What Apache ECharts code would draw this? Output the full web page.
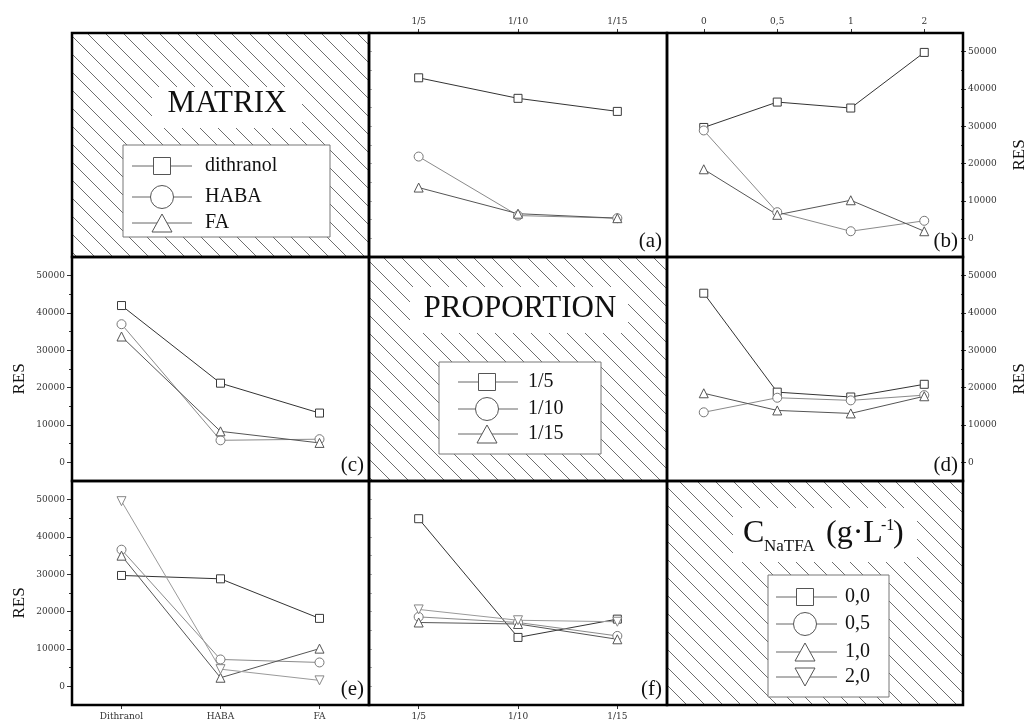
<!DOCTYPE html>
<html><head><meta charset="utf-8">
<script src="https://cdn.jsdelivr.net/npm/echarts@6/dist/echarts.min.js"></script>
<style>html,body{margin:0;padding:0;background:#fff}#c{width:1029px;height:726px}</style>
</head><body><div id="c"></div>
<script>
// ---------- categories / tick labels ----------
const matrixNames = ['dithranol', 'HABA', 'FA'];
const matrixTicks = ['Dithranol', 'HABA', 'FA'];
const proportionNames = ['1/5', '1/10', '1/15'];
const proportionTicks = ['1/5', '1/10', '1/15'];
const natfaNames = ['0,0', '0,5', '1,0', '2,0'];
const natfaTicks = ['0', '0,5', '1', '2'];
const yTickValues = [0, 10000, 20000, 30000, 40000, 50000];
const yMinorValues = [5000, 15000, 25000, 35000, 45000];
const yInnerValues = [0, 5000, 10000, 15000, 20000, 25000, 30000, 35000, 40000, 45000, 50000];

// ---------- (a) x: proportion, series: matrix ----------
const aDithranol = [43000, 37500, 34000];
const aHABA = [21900, 6100, 5400];
const aFA = [13600, 6600, 5400];
// ---------- (b) x: C NaTFA, series: matrix ----------
const bDithranol = [29700, 36500, 34900, 49800];
const bHABA = [28900, 7000, 1900, 4700];
const bFA = [18500, 6300, 10200, 1900];
// ---------- (c) x: matrix, series: proportion ----------
const c15 = [42000, 21200, 13200];
const c110 = [37000, 5900, 6200];
const c115 = [33700, 8300, 5200];
// ---------- (d) x: C NaTFA, series: proportion ----------
const d15 = [45300, 18800, 17500, 20900];
const d110 = [13400, 17300, 16600, 18000];
const d115 = [18500, 13900, 13100, 17700];
// ---------- (e) x: matrix, series: C NaTFA ----------
const e00 = [29700, 28800, 18200];
const e05 = [36600, 7200, 6400];
const e10 = [35000, 2300, 10100];
const e20 = [49600, 4600, 1600];
// ---------- (f) x: proportion, series: C NaTFA ----------
const f00 = [44900, 13100, 18000];
const f05 = [18600, 17100, 13500];
const f10 = [17100, 16700, 12600];
const f20 = [20600, 17700, 17300];

// ---------- layout ----------
const X = [72, 369, 667, 963];
const Y = [33, 257, 481, 705];
const SERIF = '"Liberation Serif", "Times New Roman", serif';
const TICKFONT = '"DejaVu Serif", serif';

const styles = {
  sq: {symbol: 'rect', size: 8, line: '#333', stroke: '#3a3a3a'},
  ci: {symbol: 'circle', size: 9, line: '#8a8a8a', stroke: '#777'},
  tr: {symbol: 'triangle', size: 9, line: '#555', stroke: '#555'},
  dn: {symbol: 'triangle', size: 9, rotate: 180, line: '#9a9a9a', stroke: '#888'}
};

const panels = [
  {label: '(a)', col: 1, row: 0, cats: proportionTicks, xSide: 'top', ySide: null, inner: true,
   series: [[matrixNames[0], aDithranol, 'sq'], [matrixNames[1], aHABA, 'ci'], [matrixNames[2], aFA, 'tr']]},
  {label: '(b)', col: 2, row: 0, cats: natfaTicks, xSide: 'top', ySide: 'right',
   series: [[matrixNames[0], bDithranol, 'sq'], [matrixNames[1], bHABA, 'ci'], [matrixNames[2], bFA, 'tr']]},
  {label: '(c)', col: 0, row: 1, cats: matrixTicks, xSide: null, ySide: 'left',
   series: [[proportionNames[0], c15, 'sq'], [proportionNames[1], c110, 'ci'], [proportionNames[2], c115, 'tr']]},
  {label: '(d)', col: 2, row: 1, cats: natfaTicks, xSide: null, ySide: 'right',
   series: [[proportionNames[0], d15, 'sq'], [proportionNames[1], d110, 'ci'], [proportionNames[2], d115, 'tr']]},
  {label: '(e)', col: 0, row: 2, cats: matrixTicks, xSide: 'bottom', ySide: 'left',
   series: [[natfaNames[0], e00, 'sq'], [natfaNames[1], e05, 'ci'], [natfaNames[2], e10, 'tr'], [natfaNames[3], e20, 'dn']]},
  {label: '(f)', col: 1, row: 2, cats: proportionTicks, xSide: 'bottom', ySide: null, inner: true,
   series: [[natfaNames[0], f00, 'sq'], [natfaNames[1], f05, 'ci'], [natfaNames[2], f10, 'tr'], [natfaNames[3], f20, 'dn']]}
];

const grids = [], xAxes = [], yAxes = [], series = [], graphics = [];
const fmt = v => String(v);

panels.forEach((p, i) => {
  grids.push({left: X[p.col], top: Y[p.row], width: X[p.col + 1] - X[p.col], height: Y[p.row + 1] - Y[p.row], containLabel: false});
  xAxes.push({
    gridIndex: i, type: 'category', data: p.cats, boundaryGap: true, position: p.xSide || 'bottom',
    axisLine: {show: false, onZero: false}, splitLine: {show: false},
    axisTick: {show: !!p.xSide, alignWithLabel: true, length: 4, lineStyle: {color: '#333'}},
    axisLabel: {show: !!p.xSide, interval: 0, fontFamily: TICKFONT, fontSize: 9, color: '#333', margin: 7}
  });
  const yi = yAxes.length;
  if (p.ySide) {
    yAxes.push({
      gridIndex: i, type: 'value', min: -5000, max: 55000, position: p.ySide,
      name: 'RES', nameLocation: 'middle', nameRotate: 90, nameGap: p.ySide === 'left' ? 44 : 50,
      nameTextStyle: {fontFamily: SERIF, fontSize: 17, color: '#111', padding: [0, 20, 0, 0]},
      axisLine: {show: false, onZero: false}, splitLine: {show: false},
      axisTick: {show: true, customValues: yTickValues, length: 5, lineStyle: {color: '#333'}},
      axisLabel: {customValues: yTickValues, formatter: fmt, fontFamily: TICKFONT, fontSize: 9, color: '#333', margin: 7}
    });
    yAxes.push({
      gridIndex: i, type: 'value', min: -5000, max: 55000, position: p.ySide,
      axisLine: {show: false, onZero: false}, splitLine: {show: false}, axisLabel: {show: false},
      axisTick: {show: true, customValues: yMinorValues, length: 3, lineStyle: {color: '#333'}}
    });
  } else {
    yAxes.push({
      gridIndex: i, type: 'value', min: -5000, max: 55000, position: 'left',
      axisLine: {show: false, onZero: false}, splitLine: {show: false}, axisLabel: {show: false},
      axisTick: {show: !!p.inner, inside: true, customValues: yInnerValues, length: 3, lineStyle: {color: '#aaa'}}
    });
  }
  p.series.forEach(([name, data, key]) => {
    const st = styles[key];
    series.push({
      type: 'line', name, xAxisIndex: i, yAxisIndex: yi, data,
      symbol: st.symbol, symbolSize: st.size, symbolRotate: st.rotate || 0, showSymbol: true,
      lineStyle: {color: st.line, width: 1},
      itemStyle: {color: '#fff', borderColor: st.stroke, borderWidth: 1},
      emphasis: {disabled: true}, z: 3
    });
  });
  graphics.push({
    type: 'text', z: 50,
    style: {text: p.label, x: X[p.col + 1] - 5, y: Y[p.row + 1] - 16, align: 'right', verticalAlign: 'middle',
            font: '21px ' + SERIF, fill: '#111'}
  });
});

// ---------- hatched diagonal cells ----------
function hatchPattern() {
  const s = 18;
  const c = document.createElement('canvas');
  c.width = s; c.height = s;
  const g = c.getContext('2d');
  g.strokeStyle = '#6e6e6e'; g.lineWidth = 1;
  g.beginPath();
  g.moveTo(0, 0); g.lineTo(s, s);
  g.moveTo(s - 3, -3); g.lineTo(s + 3, 3);
  g.moveTo(-3, s - 3); g.lineTo(3, s + 3);
  g.stroke();
  return c;
}
const pat = hatchPattern();
[0, 1, 2].forEach(k => {
  graphics.push({type: 'rect', z: 1, shape: {x: X[k], y: Y[k], width: X[k + 1] - X[k], height: Y[k + 1] - Y[k]},
    style: {fill: {image: pat, repeat: 'repeat'}, stroke: null}});
});

// white areas behind titles
[[152, 87, 150, 41], [410, 287, 218, 46], [733, 508, 184, 54]].forEach(r => {
  graphics.push({type: 'rect', z: 2, shape: {x: r[0], y: r[1], width: r[2], height: r[3]}, style: {fill: '#fff', stroke: null}});
});

// titles
graphics.push({type: 'text', z: 5, style: {text: 'MATRIX', x: 227, y: 104, align: 'center', verticalAlign: 'middle', font: '31px ' + SERIF, fill: '#111'}});
graphics.push({type: 'text', z: 5, style: {text: 'PROPORTION', x: 520, y: 309, align: 'center', verticalAlign: 'middle', font: '31px ' + SERIF, fill: '#111'}});
graphics.push({type: 'text', z: 5, style: {text: 'C', x: 743, y: 534, align: 'left', verticalAlign: 'middle', font: '32px ' + SERIF, fill: '#111'}});
graphics.push({type: 'text', z: 5, style: {text: 'NaTFA', x: 764, y: 547, align: 'left', verticalAlign: 'middle', font: '17px ' + SERIF, fill: '#111'}});
graphics.push({type: 'text', z: 5, style: {text: '(g·L', x: 826, y: 534, align: 'left', verticalAlign: 'middle', font: '32px ' + SERIF, fill: '#111'}});
graphics.push({type: 'text', z: 5, style: {text: '-1', x: 881, y: 526, align: 'left', verticalAlign: 'middle', font: '16px ' + SERIF, fill: '#111'}});
graphics.push({type: 'text', z: 5, style: {text: ')', x: 893, y: 534, align: 'left', verticalAlign: 'middle', font: '32px ' + SERIF, fill: '#111'}});

// ---------- legends ----------
function legend(names, keys, box, ys, lx1, lx2, mx, tx) {
  graphics.push({type: 'rect', z: 3, shape: {x: box[0], y: box[1], width: box[2], height: box[3]},
    style: {fill: '#fff', stroke: '#777', lineWidth: 1}});
  names.forEach((n, i) => {
    const y = ys[i], k = keys[i];
    graphics.push({type: 'line', z: 4, shape: {x1: lx1, y1: y, x2: lx2, y2: y}, style: {stroke: '#666', lineWidth: 1}});
    const ms = {fill: '#fff', stroke: '#555', lineWidth: 1};
    if (k === 'sq') graphics.push({type: 'rect', z: 5, shape: {x: mx - 8.5, y: y - 8.5, width: 17, height: 17}, style: ms});
    if (k === 'ci') graphics.push({type: 'circle', z: 5, shape: {cx: mx, cy: y, r: 11.5}, style: ms});
    if (k === 'tr') graphics.push({type: 'polygon', z: 5, shape: {points: [[mx - 10, y + 9], [mx + 10, y + 9], [mx, y - 9]]}, style: ms});
    if (k === 'dn') graphics.push({type: 'polygon', z: 5, shape: {points: [[mx - 10, y - 9], [mx + 10, y - 9], [mx, y + 9]]}, style: ms});
    graphics.push({type: 'text', z: 5, style: {text: n, x: tx, y: y, align: 'left', verticalAlign: 'middle', font: '20px ' + SERIF, fill: '#111'}});
  });
}
legend(matrixNames, ['sq', 'ci', 'tr'], [123, 145, 207, 92], [166, 197, 223], 132, 192, 162, 205);
legend(proportionNames, ['sq', 'ci', 'tr'], [439, 362, 162, 92], [382, 409, 434], 458, 518, 487, 528);
legend(natfaNames, ['sq', 'ci', 'tr', 'dn'], [768, 575, 121, 122], [597, 624, 652, 677], 776, 837, 805, 845);

// ---------- cell borders ----------
for (let r = 0; r < 3; r++) {
  for (let c = 0; c < 3; c++) {
    graphics.push({type: 'rect', z: 100, shape: {x: X[c], y: Y[r], width: X[c + 1] - X[c], height: Y[r + 1] - Y[r]},
      style: {fill: null, stroke: '#000', lineWidth: 2.5}});
  }
}

const chart = echarts.init(document.getElementById('c'), null, {renderer: 'canvas'});
chart.setOption({
  animation: false,
  backgroundColor: '#fff',
  grid: grids, xAxis: xAxes, yAxis: yAxes, series: series,
  graphic: {elements: graphics}
});
</script></body></html>
